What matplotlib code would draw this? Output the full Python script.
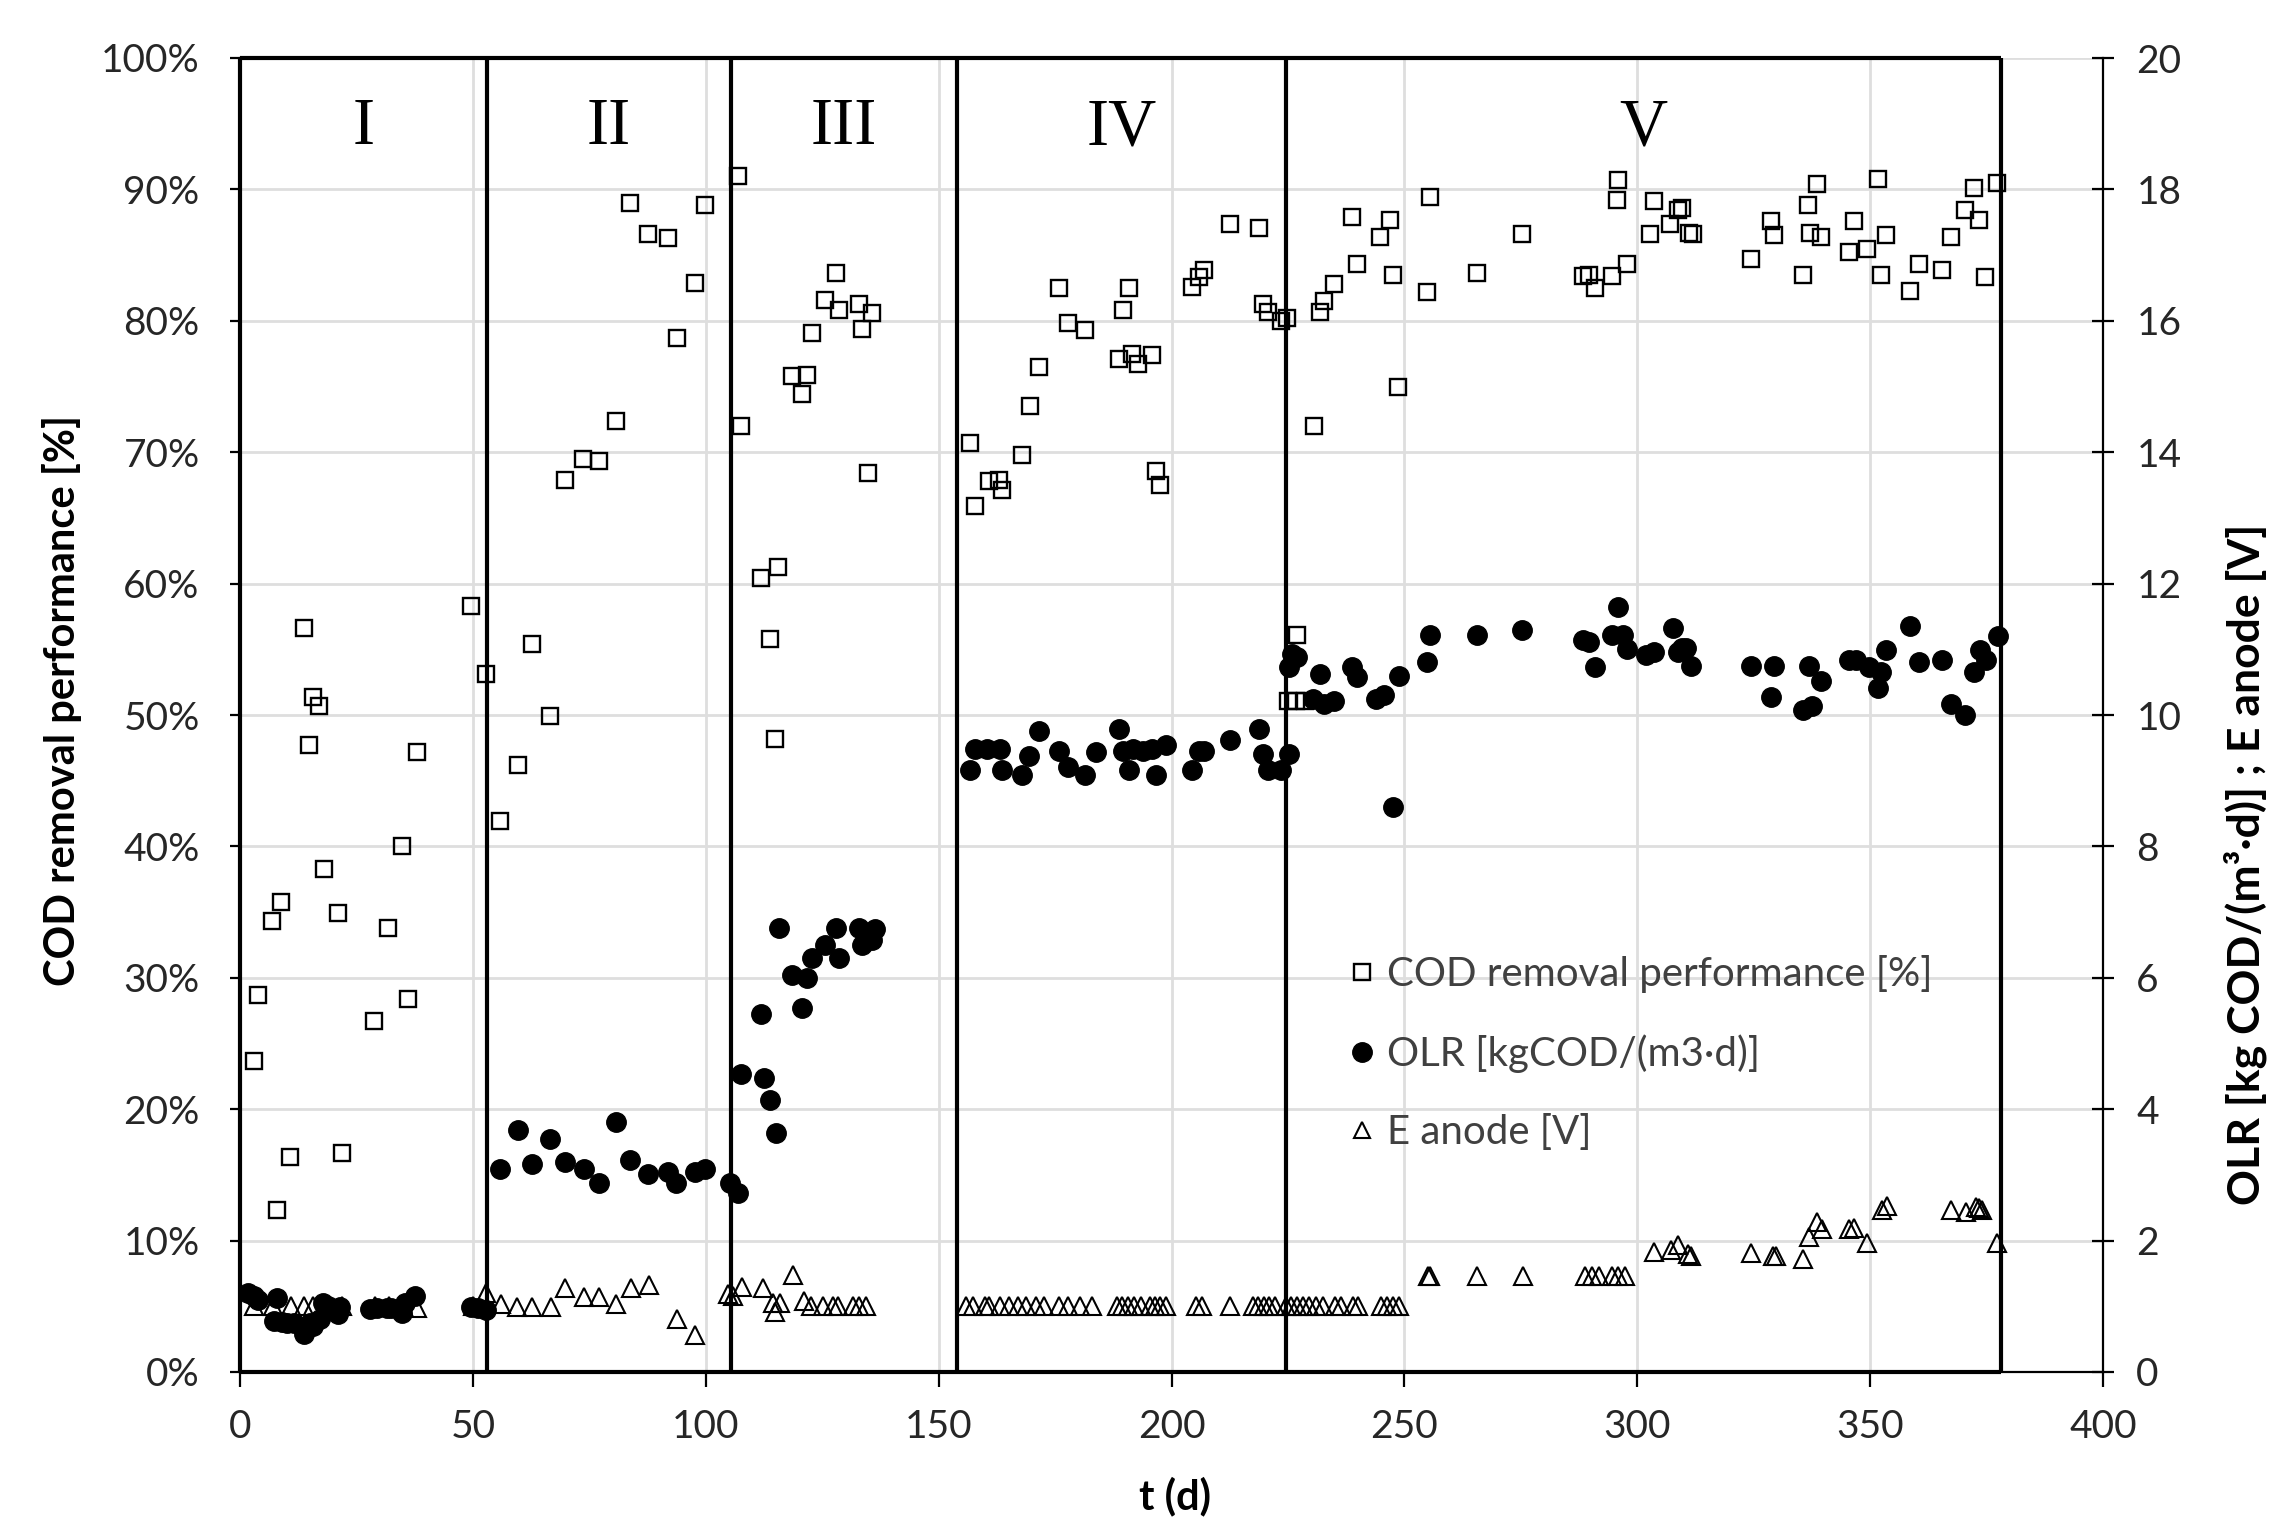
import numpy as np
import matplotlib
matplotlib.use('Agg')
import matplotlib.pyplot as plt
from matplotlib.ticker import FuncFormatter, MultipleLocator
from matplotlib.lines import Line2D

# phase boundaries (days) and phase names
phase_edges = [0, 53, 105.5, 154, 224.5, 378]
phase_names = ['I', 'II', 'III', 'IV', 'V']

# COD removal performance [%]
cod_day = [3.0, 3.8, 6.9, 8.8, 7.9, 10.7, 13.8, 15.7, 17.0, 14.9, 18.0, 21.0, 21.9, 28.7, 31.8,
           34.8, 36.0, 37.9, 49.7, 52.8,
           55.9, 59.7, 62.7, 66.6, 69.7, 73.7, 77.0, 80.8, 83.8, 87.6, 91.9, 93.8, 97.7, 99.9,
           107.0, 107.5, 111.8, 115.6, 113.7, 114.8, 118.6, 120.6, 121.8, 122.9, 125.6, 128.0,
           128.6, 132.9, 133.6, 135.7, 134.9,
           156.7, 157.8, 160.9, 162.9, 163.5, 167.8, 169.7, 171.5, 175.8, 177.8, 181.5, 188.7,
           189.6, 190.8, 191.5, 192.8, 195.8, 196.6, 197.6, 204.5, 205.8, 206.9, 212.6, 218.8,
           219.6, 220.7, 223.6,
           224.9, 226.9, 225.0, 226.7, 228.6, 230.6, 231.8, 232.7, 234.8, 238.7, 239.8, 244.7,
           246.9, 247.5, 248.6, 254.9, 255.6, 265.5, 275.3, 288.3, 289.6, 290.9, 294.6, 295.9,
           295.7, 297.9, 302.7, 303.7, 307.0, 308.8, 309.6, 311.2, 311.9, 324.4, 328.7, 329.4,
           335.6, 336.6, 337.1, 338.7, 339.4, 345.5, 346.6, 349.4, 351.6, 352.4, 353.5, 358.5,
           360.5, 365.4, 367.3, 370.4, 372.3, 373.4, 374.6, 377.3]
cod_pct = [23.7, 28.7, 34.3, 35.8, 12.3, 16.4, 56.6, 51.4, 50.7, 47.7, 38.3, 34.9, 16.7, 26.7, 33.8,
           40.0, 28.4, 47.2, 58.3, 53.1,
           41.9, 46.2, 55.4, 49.9, 67.9, 69.5, 69.3, 72.4, 89.0, 86.6, 86.3, 78.7, 82.9, 88.8,
           91.0, 72.0, 60.4, 61.3, 55.8, 48.2, 75.8, 74.4, 75.9, 79.1, 81.6, 83.6,
           80.8, 81.3, 79.4, 80.6, 68.4,
           70.7, 65.9, 67.8, 67.9, 67.1, 69.8, 73.5, 76.5, 82.5, 79.8, 79.3, 77.1,
           80.8, 82.5, 77.5, 76.7, 77.4, 68.6, 67.5, 82.6, 83.3, 83.9, 87.4, 87.1,
           81.3, 80.7, 80.0,
           80.2, 56.1, 51.1, 51.1, 51.1, 72.0, 80.7, 81.5, 82.8, 87.9, 84.3, 86.4,
           87.7, 83.5, 75.0, 82.2, 89.4, 83.6, 86.6, 83.4, 83.5, 82.5, 83.4, 90.7,
           89.2, 84.3, 86.6, 89.1, 87.4, 88.4, 88.6, 86.7, 86.6, 84.7, 87.6, 86.5,
           83.5, 88.8, 86.7, 90.4, 86.4, 85.2, 87.6, 85.5, 90.8, 83.5, 86.5, 82.3,
           84.3, 83.9, 86.4, 88.4, 90.1, 87.7, 83.3, 90.5]

# OLR [kgCOD/(m3*d)]
olr_day = [1.8, 3.0, 3.9, 7.2, 7.9, 9.0, 10.0, 11.5, 13.7, 15.0, 15.7, 17.2, 17.9, 19.0, 21.1,
           21.5, 27.9, 29.5, 31.5, 32.5, 34.7, 35.4, 37.6, 49.7, 51.0, 52.8,
           55.9, 59.7, 62.7, 66.6, 69.7, 73.8, 77.0, 80.8, 83.8, 87.6, 91.9, 93.7, 97.6, 99.9,
           105.3, 106.9,
           107.6, 111.8, 112.5, 113.7, 115.0, 115.7, 118.6, 120.6, 121.7, 122.9, 125.6, 128.0,
           128.6, 132.9, 133.6, 135.8, 136.3,
           156.7, 157.8, 160.3, 163.1, 163.5, 167.8, 169.5, 171.5, 175.8, 177.8, 181.5, 183.8,
           188.7, 189.6, 190.8, 191.7, 193.8, 195.8, 196.6, 198.9, 204.5, 205.8, 206.9, 212.6,
           218.8, 219.6, 220.7, 223.6,
           225.2, 225.3, 225.9, 226.9, 230.3, 231.8, 232.8, 234.8, 238.7, 239.8, 243.9, 245.7,
           247.5, 248.8, 254.9, 255.5, 265.5, 275.3, 288.3, 289.6, 290.9, 294.6, 295.9, 296.9,
           297.9, 301.9, 303.7, 307.6, 308.8, 309.6, 310.4, 311.5, 324.4, 328.7, 329.4, 335.5,
           336.8, 337.6, 339.4, 345.5, 346.9, 349.8, 351.6, 352.3, 353.5, 358.5, 360.5, 365.4,
           367.3, 370.4, 372.3, 373.6, 374.8, 377.5]
olr_val = [1.20, 1.15, 1.10, 0.77, 1.12, 0.76, 0.75, 0.74, 0.58, 0.75, 0.70, 0.80, 1.05, 1.00, 0.88,
           0.99, 0.96, 0.97, 0.98, 0.97, 0.90, 1.05, 1.16, 0.99, 0.97, 0.94,
           3.09, 3.68, 3.16, 3.55, 3.20, 3.09, 2.87, 3.81, 3.22, 3.01, 3.04, 2.87, 3.04, 3.09,
           2.88, 2.73,
           4.53, 5.45, 4.47, 4.14, 3.64, 6.76, 6.05, 5.54, 6.00, 6.30, 6.50, 6.76,
           6.30, 6.76, 6.50, 6.57, 6.74,
           9.16, 9.48, 9.48, 9.49, 9.16, 9.08, 9.38, 9.75, 9.45, 9.21, 9.08, 9.44,
           9.78, 9.45, 9.16, 9.49, 9.45, 9.49, 9.08, 9.54, 9.16, 9.45, 9.45, 9.62,
           9.78, 9.41, 9.16, 9.16,
           9.41, 10.73, 10.93, 10.88, 10.24, 10.63, 10.17, 10.21, 10.73, 10.58, 10.24, 10.30,
           8.60, 10.60, 10.80, 11.22, 11.22, 11.30, 11.14, 11.11, 10.73, 11.22, 11.65, 11.22,
           11.00, 10.92, 10.96, 11.32, 10.96, 11.02, 11.02, 10.75, 10.75, 10.28, 10.75, 10.07,
           10.75, 10.13, 10.51, 10.83, 10.83, 10.73, 10.41, 10.66, 10.99, 11.35, 10.80, 10.83,
           10.16, 10.00, 10.66, 10.99, 10.84, 11.21]

# E anode [V]
e_day = [3.0, 7.0, 10.9, 13.7, 15.7, 19.0, 22.0, 29.0, 32.0, 35.0, 37.9, 50.0,
         52.9, 56.1, 59.5, 62.8, 66.7, 69.7, 73.8, 77.1, 80.8, 83.9, 87.8, 93.9, 97.6, 104.8,
         105.9, 107.7, 112.3, 114.4, 115.9, 114.8, 118.7, 121.2, 122.7, 125.2, 127.3, 128.5,
         131.6, 133.0, 134.4,
         155.9, 157.4, 160.0, 160.9, 163.1, 165.2, 167.1, 168.8, 170.9, 172.7, 175.8, 177.8,
         180.3, 183.0, 188.2, 189.4, 190.7, 191.9, 193.5, 195.3, 196.4, 197.6, 198.8, 205.3,
         206.6, 212.6, 217.4, 218.6, 219.8, 221.0, 222.2,
         224.6, 225.7, 227.0, 228.2, 229.5, 231.0, 232.5, 235.0, 236.4, 238.9, 240.0, 245.0,
         246.2, 247.5, 248.8,
         255.0, 255.4, 265.5, 275.4, 288.8, 290.2, 291.7, 294.5, 295.9, 297.4,
         303.6, 307.2, 308.8, 310.8, 311.5, 324.4, 329.1, 329.8, 335.6, 336.8, 338.7, 339.6,
         345.5, 346.6, 349.4, 352.6, 353.7, 367.3, 370.5, 372.7, 373.4, 374.1, 377.3]
e_val = [1.0, 1.0, 1.0, 1.0, 1.0, 1.0, 1.0, 1.0, 1.0, 1.0, 0.98, 1.0,
         1.20, 1.03, 0.99, 0.99, 0.99, 1.28, 1.14, 1.14, 1.03, 1.28, 1.32, 0.80, 0.57, 1.18,
         1.15, 1.30, 1.28, 1.05, 1.05, 0.91, 1.48, 1.08, 1.0, 1.0, 1.0, 1.0,
         1.0, 1.0, 1.0,
         1.0, 1.0, 1.0, 1.0, 1.0, 1.0, 1.0, 1.0, 1.0, 1.0, 1.0, 1.0,
         1.0, 1.0, 1.0, 1.0, 1.0, 1.0, 1.0, 1.0, 1.0, 1.0, 1.0, 1.0,
         1.0, 1.0, 1.0, 1.0, 1.0, 1.0, 1.0,
         1.0, 1.0, 1.0, 1.0, 1.0, 1.0, 1.0, 1.0, 1.0, 1.0, 1.0, 1.0,
         1.0, 1.0, 1.0,
         1.46, 1.46, 1.46, 1.46, 1.46, 1.46, 1.46, 1.46, 1.46, 1.46,
         1.82, 1.86, 1.93, 1.79, 1.76, 1.81, 1.76, 1.76, 1.72, 2.05, 2.29, 2.17,
         2.17, 2.19, 1.96, 2.47, 2.52, 2.46, 2.43, 2.51, 2.50, 2.46, 1.96]

font = 'Lato'
tick_col = '#262626'

fig = plt.figure(figsize=(22.77, 15.17), dpi=100)
ax = fig.add_axes([240 / 2277, 145 / 1517, 1863 / 2277, 1314 / 1517])
ax2 = ax.twinx()

ax.set_xlim(0, 400)
ax.set_ylim(0, 100)
ax2.set_ylim(0, 20)

ax.xaxis.set_major_locator(MultipleLocator(50))
ax.yaxis.set_major_locator(MultipleLocator(10))
ax2.yaxis.set_major_locator(MultipleLocator(2))
ax.yaxis.set_major_formatter(FuncFormatter(lambda v, p: '%d%%' % round(v)))

ax.grid(True, color='#dedede', lw=2)
ax.set_axisbelow(True)

for s in ['top', 'right']:
    ax.spines[s].set_visible(False)
for s in ['top', 'left', 'bottom']:
    ax2.spines[s].set_visible(False)
ax.spines['bottom'].set_linewidth(1.6)
ax.spines['left'].set_linewidth(1.6)
ax2.spines['right'].set_linewidth(1.6)

ax.tick_params(axis='x', direction='out', length=11, width=1.6, pad=16,
               labelsize=28, labelcolor=tick_col)
ax.tick_params(axis='y', direction='out', length=7, width=1.6, pad=22,
               labelsize=28, labelcolor=tick_col)
ax2.tick_params(axis='y', direction='inout', length=16, width=1.6, pad=16,
                labelsize=28, labelcolor=tick_col)
for lab in ax.get_xticklabels() + ax.get_yticklabels() + ax2.get_yticklabels():
    lab.set_fontfamily(font)

# phase box
ax.vlines(phase_edges, 0, 100, colors='black', lw=3, clip_on=False, zorder=3)
ax.hlines([0, 100], phase_edges[0], phase_edges[-1], colors='black', lw=3,
          clip_on=False, zorder=3)
for i, name in enumerate(phase_names):
    xc = (phase_edges[i] + phase_edges[i + 1]) / 2
    ax.text(xc, 94.7, name, ha='center', va='center', fontsize=48,
            family='Liberation Serif', color='black')

# data
ax.plot(cod_day, cod_pct, ls='none', marker='s', ms=11.5, mfc='none', mec='black',
        mew=1.7, zorder=4, clip_on=False)
ax2.plot(olr_day, olr_val, ls='none', marker='o', ms=14, mfc='black', mec='black',
         zorder=4)
ax2.plot(e_day, e_val, ls='none', marker='^', ms=12.5, mfc='none', mec='black',
         mew=1.5, zorder=4)

# legend
handles = [Line2D([], [], ls='none', marker='s', ms=11, mfc='none', mec='black', mew=1.7),
           Line2D([], [], ls='none', marker='o', ms=14, mfc='black', mec='black'),
           Line2D([], [], ls='none', marker='^', ms=12, mfc='none', mec='black', mew=1.5)]
labels = ['COD removal performance [%]', 'OLR [kgCOD/(m3\u00b7d)]', 'E anode [V]']
ax2.legend(handles, labels, loc='upper left', bbox_to_anchor=(1350 / 2277, 1 - 955 / 1517),
           bbox_transform=fig.transFigure, frameon=False, borderpad=0, borderaxespad=0,
           handlelength=0.6, handletextpad=0.33, labelspacing=1.02,
           prop={'family': font, 'size': 29}, labelcolor='#404040')

# axis titles
fig.text(62 / 2277, 1 - 701 / 1517, 'COD removal performance [%]', rotation=90,
         ha='center', va='center', fontsize=30, fontweight='bold', family=font)
fig.text(2245 / 2277, 1 - 864 / 1517, 'OLR [kg COD/(m\u00b3\u00b7d)] ; E anode [V]',
         rotation=90, ha='center', va='center', fontsize=32, fontweight='bold', family=font)
fig.text(1175 / 2277, 1 - 1496 / 1517, 't (d)', ha='center', va='center',
         fontsize=30, fontweight='bold', family=font)

fig.savefig('out.png', dpi=100)
